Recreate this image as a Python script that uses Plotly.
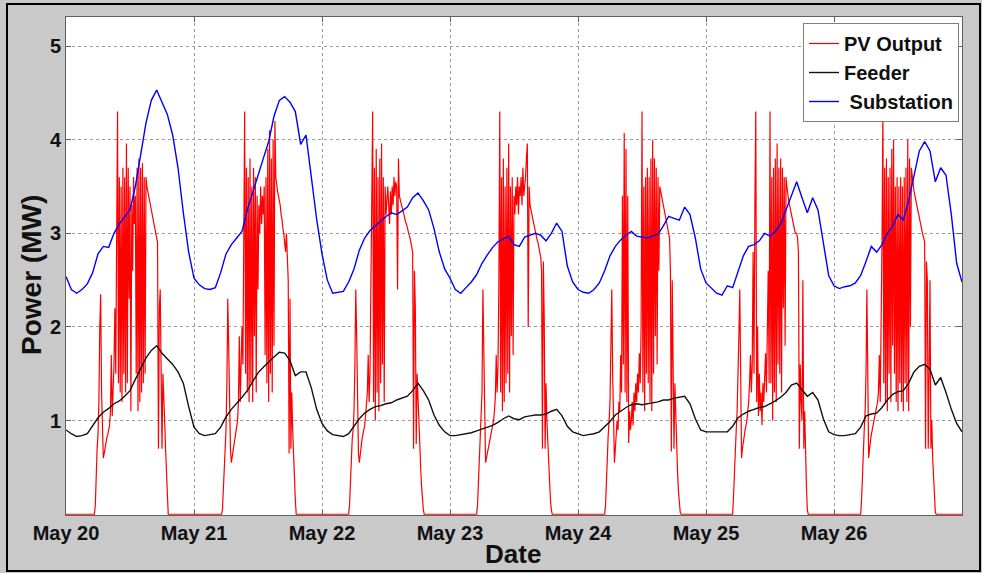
import pandas as pd
import plotly.graph_objects as go

# ---------------- data ----------------
day_labels = ["May 20", "May 21", "May 22", "May 23", "May 24", "May 25", "May 26"]
start = pd.Timestamp("2013-05-20 00:00")

# PV output (MW), 10-min samples from 05:00 to 19:30 each day (zero at night)
pv_may20 = [0, 0, 0, 0.1, 0.45, 0.7,
            0.85, 1.2, 2.0, 2.35, 1.3, 0.9,
            0.6, 0.65, 0.72, 0.78, 0.82, 0.85,
            0.9, 0.95, 1.1, 1.7, 1.05, 1.3,
            1.6, 2.2, 1.5, 3.0, 4.3, 1.4,
            3.6, 1.3, 3.5, 1.2, 3.7, 1.5,
            3.6, 1.3, 3.96, 1.4, 3.7, 2.3,
            3.5, 1.1, 3.3, 2.6, 3.6, 3.1,
            3.4, 1.5, 3.7, 1.1, 3.8, 1.2,
            3.7, 1.3, 3.75, 1.4, 3.6, 1.5,
            3.6, 3.5, 3.45, 3.4, 3.35, 3.3,
            3.25, 3.2, 3.15, 3.1, 3.05, 3.0,
            2.95, 2.9, 0.7, 2.2, 2.4, 1.1,
            0.7, 1.5, 1.3, 1.0, 0.7, 0.45,
            0.15, 0, 0, 0]
pv_may21 = [0, 0, 0.05, 0.3, 0.55, 0.75,
            0.9, 1.4, 2.3, 1.8, 0.9, 0.7,
            0.55, 0.62, 0.7, 0.76, 0.8, 0.88,
            0.95, 1.0, 1.2, 1.9, 1.2, 1.5,
            2.0, 1.6, 3.3, 4.3, 1.5, 3.7,
            1.3, 3.6, 1.2, 3.8, 1.4, 3.5,
            1.2, 3.7, 1.9, 3.6, 1.3, 3.4,
            2.4, 3.3, 3.0, 3.5, 3.1, 3.4,
            3.2, 3.5, 1.7, 3.6, 1.4, 3.9,
            1.2, 4.1, 1.5, 3.8, 1.3, 4.0,
            1.8, 4.2, 3.6, 3.5, 3.45, 3.4,
            3.35, 3.3, 3.2, 3.15, 3.05, 3.0,
            2.9, 2.8, 3.0, 2.6, 2.5, 0.65,
            2.3, 0.7, 1.3, 0.9, 0.6, 0.35,
            0.15, 0, 0, 0]
pv_may22 = [0, 0.1, 0.4, 0.65, 0.8, 0.9,
            1.1, 1.6, 2.4, 1.9, 0.9, 0.65,
            0.55, 0.66, 0.74, 0.8, 0.85, 0.9,
            0.95, 1.05, 1.15, 1.3, 1.7, 1.2,
            1.5, 2.3, 3.0, 4.3, 1.2, 3.7,
            1.0, 3.9, 1.3, 3.6, 1.1, 3.8,
            1.4, 3.96, 1.6, 3.6, 1.2, 3.5,
            3.2, 3.4, 3.5, 3.3, 3.1, 3.45,
            3.2, 3.5, 3.3, 3.6, 3.4, 3.55,
            3.5, 2.4, 3.8, 3.4, 3.35, 3.3,
            3.28, 3.25, 3.2, 3.15, 3.12, 3.1,
            3.05, 3.0, 2.98, 2.95, 2.9, 2.85,
            2.8, 0.7, 2.6, 2.2, 0.75, 1.5,
            1.2, 0.9, 0.7, 0.5, 0.3, 0.15,
            0.05, 0, 0, 0]
pv_may23 = [0, 0.1, 0.35, 0.6, 0.8, 0.95,
            1.3, 2.4, 1.8, 0.9, 0.55, 0.6,
            0.65, 0.72, 0.78, 0.82, 0.86, 0.9,
            0.95, 1.0, 1.1, 1.25, 1.7, 1.3,
            1.6, 2.5, 4.3, 1.3, 3.6, 1.1,
            3.8, 1.2, 3.5, 1.4, 3.7, 1.5,
            3.96, 1.3, 3.5, 1.9, 3.6, 1.7,
            3.4, 3.2, 3.5, 3.3, 3.6, 3.2,
            3.5, 3.4, 3.6, 3.3, 3.7, 3.4,
            3.5, 3.6, 3.8, 3.96, 2.0, 3.5,
            3.3, 3.25, 3.2, 3.15, 3.1, 3.05,
            3.0, 2.97, 2.93, 2.9, 2.85, 2.8,
            2.75, 2.6, 0.7, 2.7, 2.1, 0.7,
            1.4, 1.0, 0.75, 0.5, 0.3, 0.15,
            0.05, 0, 0, 0]
pv_may24 = [0, 0.1, 0.4, 0.7, 0.85, 1.0,
            1.2, 1.8, 2.4, 1.5, 0.8, 0.55,
            0.7, 0.85, 1.0, 0.9, 1.2, 1.1,
            1.7, 1.3, 3.4, 1.6, 4.07, 1.3,
            3.9, 1.2, 3.4, 0.76, 1.1, 0.9,
            1.0, 1.2, 0.95, 1.3, 1.1, 1.4,
            1.2, 1.5, 1.3, 1.72, 1.4, 2.0,
            4.3, 1.3, 3.5, 1.1, 3.6, 1.5,
            3.7, 1.4, 3.6, 1.2, 3.8, 1.1,
            4.0, 1.5, 3.8, 1.9, 3.7, 1.6,
            3.6, 2.6, 3.5, 3.45, 3.4, 3.35,
            3.3, 3.25, 3.2, 3.15, 3.1, 3.05,
            3.0, 2.95, 2.6, 0.67, 2.5, 1.8,
            0.7, 1.4, 1.0, 0.7, 0.45, 0.25,
            0.1, 0.02, 0, 0]
pv_may25 = [0, 0.2, 0.5, 0.75, 0.9, 1.1,
            1.4, 1.9, 2.4, 1.2, 0.6, 0.7,
            0.78, 0.85, 0.9, 0.95, 1.0, 1.1,
            1.2, 1.4, 1.7, 1.3, 1.6, 2.8,
            1.5, 3.3, 4.3, 1.2, 2.0, 1.05,
            1.5, 1.1, 1.3, 0.95, 1.4, 1.2,
            1.5, 1.72, 1.3, 1.8, 2.6, 1.4,
            4.3, 1.4, 3.6, 1.0, 3.7, 1.3,
            3.8, 1.2, 3.96, 1.6, 3.7, 1.5,
            3.8, 1.3, 3.7, 2.2, 3.6, 1.8,
            3.6, 3.5, 3.4, 3.35, 3.3, 3.25,
            3.2, 3.15, 3.1, 3.05, 3.02, 3.0,
            3.0, 2.95, 2.8, 0.7, 1.6, 1.2,
            1.0, 2.5, 0.7, 1.1, 0.6, 0.3,
            0.05, 0, 0, 0]
pv_may26 = [0, 0.15, 0.45, 0.7, 0.9, 1.1,
            1.5, 2.4, 1.6, 0.6, 0.7, 0.8,
            0.85, 0.9, 0.95, 1.0, 1.05, 1.1,
            1.15, 1.2, 1.3, 1.7, 1.2, 1.8,
            2.9, 4.3, 1.4, 3.7, 1.2, 3.8,
            1.1, 3.6, 1.5, 3.7, 1.2, 3.9,
            1.8, 4.0, 1.5, 3.5, 1.2, 3.6,
            1.1, 3.5, 1.4, 3.6, 1.2, 3.5,
            1.1, 3.6, 1.4, 3.7, 1.2, 4.0,
            1.1, 3.8, 2.0, 3.7, 3.6, 3.5,
            3.45, 3.4, 3.35, 3.3, 3.25, 3.2,
            3.15, 3.1, 3.05, 3.0, 2.98, 2.95,
            2.9, 0.7, 2.7, 2.5, 0.7, 1.5,
            2.5, 0.7, 1.0, 0.6, 0.35, 0.15,
            0.02, 0, 0, 0]
pv_days = [pv_may20, pv_may21, pv_may22, pv_may23, pv_may24, pv_may25, pv_may26]

# Substation load (MW), hourly samples 00:00..23:00 each day
sub_may20 = [2.54, 2.40, 2.36, 2.40, 2.46, 2.58, 2.78, 2.86, 2.85, 3.00, 3.10, 3.17, 3.25, 3.50, 3.82, 4.18, 4.42, 4.53, 4.40, 4.27, 4.05, 3.70, 3.22, 2.80]
sub_may21 = [2.52, 2.45, 2.41, 2.40, 2.42, 2.58, 2.78, 2.88, 2.95, 3.02, 3.25, 3.44, 3.62, 3.80, 3.98, 4.25, 4.42, 4.46, 4.40, 4.30, 3.95, 4.05, 3.60, 3.15]
sub_may22 = [2.78, 2.50, 2.36, 2.37, 2.38, 2.48, 2.62, 2.82, 2.95, 3.03, 3.08, 3.14, 3.18, 3.22, 3.20, 3.24, 3.28, 3.38, 3.43, 3.35, 3.25, 3.05, 2.80, 2.62]
sub_may23 = [2.52, 2.40, 2.36, 2.42, 2.48, 2.56, 2.68, 2.77, 2.85, 2.91, 2.94, 2.97, 2.88, 2.86, 2.96, 2.98, 3.00, 2.98, 2.92, 3.00, 3.11, 3.02, 2.65, 2.48]
sub_may24 = [2.40, 2.37, 2.36, 2.40, 2.47, 2.60, 2.76, 2.86, 2.93, 2.98, 3.02, 2.97, 2.96, 2.95, 2.97, 2.99, 3.08, 3.18, 3.16, 3.14, 3.28, 3.20, 2.95, 2.62]
sub_may25 = [2.47, 2.42, 2.36, 2.34, 2.44, 2.42, 2.60, 2.76, 2.86, 2.88, 2.92, 3.00, 2.97, 3.02, 3.10, 3.25, 3.40, 3.55, 3.38, 3.22, 3.38, 3.25, 2.90, 2.55]
sub_may26 = [2.44, 2.41, 2.43, 2.44, 2.47, 2.55, 2.70, 2.86, 2.80, 2.88, 3.00, 3.08, 3.20, 3.14, 3.35, 3.62, 3.88, 3.98, 3.88, 3.55, 3.70, 3.62, 3.20, 2.68]
sub_end = 2.48
sub_days = [sub_may20, sub_may21, sub_may22, sub_may23, sub_may24, sub_may25, sub_may26]

# Feeder load (MW), hourly samples 00:00..23:00 each day
fd_may20 = [0.90, 0.86, 0.83, 0.84, 0.86, 0.95, 1.03, 1.09, 1.13, 1.18, 1.21, 1.26, 1.32, 1.44, 1.56, 1.67, 1.75, 1.80, 1.72, 1.66, 1.60, 1.52, 1.40, 1.15]
fd_may21 = [0.93, 0.86, 0.84, 0.85, 0.86, 0.93, 1.04, 1.12, 1.18, 1.25, 1.32, 1.42, 1.51, 1.57, 1.63, 1.68, 1.73, 1.72, 1.64, 1.48, 1.52, 1.52, 1.35, 1.12]
fd_may22 = [0.97, 0.89, 0.85, 0.84, 0.83, 0.86, 0.94, 1.02, 1.08, 1.12, 1.15, 1.16, 1.18, 1.19, 1.22, 1.24, 1.26, 1.32, 1.40, 1.32, 1.22, 1.06, 0.95, 0.88]
fd_may23 = [0.84, 0.84, 0.85, 0.86, 0.87, 0.89, 0.91, 0.93, 0.95, 0.98, 1.02, 1.05, 1.02, 1.01, 1.04, 1.05, 1.06, 1.06, 1.07, 1.10, 1.12, 1.05, 0.94, 0.88]
fd_may24 = [0.86, 0.84, 0.85, 0.86, 0.88, 0.93, 0.99, 1.06, 1.10, 1.14, 1.17, 1.18, 1.17, 1.18, 1.19, 1.20, 1.22, 1.22, 1.24, 1.25, 1.26, 1.18, 1.02, 0.90]
fd_may25 = [0.88, 0.88, 0.88, 0.88, 0.88, 0.94, 1.03, 1.07, 1.10, 1.12, 1.14, 1.15, 1.18, 1.21, 1.25, 1.30, 1.38, 1.40, 1.33, 1.26, 1.30, 1.22, 1.02, 0.88]
fd_may26 = [0.85, 0.84, 0.84, 0.85, 0.86, 0.93, 1.05, 1.07, 1.08, 1.14, 1.22, 1.28, 1.31, 1.32, 1.40, 1.52, 1.58, 1.60, 1.55, 1.38, 1.46, 1.30, 1.12, 0.97]
fd_end = 0.88
fd_days = [fd_may20, fd_may21, fd_may22, fd_may23, fd_may24, fd_may25, fd_may26]

y_ticks = [1, 2, 3, 4, 5]

# ---------------- build series ----------------
pv_x, pv_y = [start], [0.0]
for d, arr in enumerate(pv_days):
    base = start + pd.Timedelta(days=d, hours=5)
    for i, v in enumerate(arr):
        pv_x.append(base + pd.Timedelta(minutes=10 * i))
        pv_y.append(v)
pv_x.append(start + pd.Timedelta(days=7))
pv_y.append(0.0)


def hourly(days, end_val):
    xs, ys = [], []
    for d, arr in enumerate(days):
        for h, v in enumerate(arr):
            xs.append(start + pd.Timedelta(days=d, hours=h))
            ys.append(v)
    xs.append(start + pd.Timedelta(days=7))
    ys.append(end_val)
    return xs, ys


sub_x, sub_y = hourly(sub_days, sub_end)
fd_x, fd_y = hourly(fd_days, fd_end)

tick_x = [start + pd.Timedelta(days=i) for i in range(len(day_labels))]

FONT = "Liberation Sans, Arial, sans-serif"

fig = go.Figure()
fig.add_trace(go.Scatter(x=pv_x, y=pv_y, mode="lines", name="PV Output",
                         line=dict(color="#ff0000", width=1.2)))
fig.add_trace(go.Scatter(x=fd_x, y=fd_y, mode="lines", name="Feeder",
                         line=dict(color="#111111", width=1.4)))
fig.add_trace(go.Scatter(x=sub_x, y=sub_y, mode="lines", name="\u00a0Substation",
                         line=dict(color="#0000ff", width=1.4)))

axis_common = dict(showline=True, linecolor="#606060", linewidth=1, mirror="ticks",
                   ticks="inside", ticklen=5, tickcolor="#606060",
                   showgrid=True, gridcolor="#9a9a9a", griddash="dot", gridwidth=1,
                   zeroline=False,
                   tickfont=dict(family=FONT, size=20, color="#111111", weight="bold"))

fig.update_xaxes(type="date", range=[start, start + pd.Timedelta(days=7)],
                 tickvals=tick_x, ticktext=day_labels, **axis_common)
fig.update_yaxes(range=[-0.008, 5.31], tickvals=y_ticks, ticktext=[str(t) for t in y_ticks],
                 **axis_common)

L, R, T, B = 66, 20, 17, 58
PW, PH = 982 - L - R, 573 - T - B


def px(xp):
    return (xp - L) / PW


def py(yp):
    return (573 - B - yp) / PH


fig.update_layout(
    width=982, height=573,
    margin=dict(l=L, r=R, t=T, b=B),
    paper_bgcolor="#c9c9c9", plot_bgcolor="#ffffff",
    font=dict(family=FONT, color="#111111"),
    showlegend=True,
    legend=dict(x=px(959), y=py(23), xanchor="right", yanchor="top",
                bgcolor="#ffffff", bordercolor="#808080", borderwidth=1,
                font=dict(family=FONT, size=20, color="#111111", weight="bold"),
                itemwidth=30, tracegroupgap=0),
    annotations=[
        dict(text="Power (MW)", textangle=-90, x=px(31), y=py(275), xref="paper", yref="paper",
             showarrow=False, xanchor="center", yanchor="middle",
             font=dict(family=FONT, size=28, color="#111111", weight="bold")),
        dict(text="Date", x=px(513), y=py(554), xref="paper", yref="paper",
             showarrow=False, xanchor="center", yanchor="middle",
             font=dict(family=FONT, size=26, color="#111111", weight="bold")),
    ],
    shapes=[dict(type="rect", xref="paper", yref="paper",
                 x0=px(7), x1=px(980), y0=py(571), y1=py(4),
                 line=dict(color="#000000", width=2), fillcolor="rgba(0,0,0,0)", layer="below")],
)

fig.write_html("out.html")
